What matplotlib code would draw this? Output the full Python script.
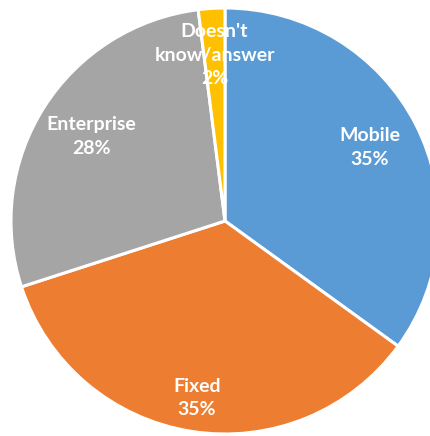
import numpy as np
import matplotlib
matplotlib.use("Agg")
import matplotlib.pyplot as plt

categories = ["Mobile", "Fixed", "Enterprise", "Doesn't\nknow/answer"]
values = [35, 35, 28, 2]
colors = ["#5B9BD5", "#ED7D31", "#A5A5A5", "#FFC000"]
label_radius = [0.76, 0.84, 0.74, 0.78]

fig = plt.figure(figsize=(4.30, 4.36), dpi=100)
W, H = 430, 436
left, right, top, bottom = 11, 439, 8, 434
ax = fig.add_axes([left / W, (H - bottom) / H, (right - left) / W, (bottom - top) / H])
wedges, _ = ax.pie(values, colors=colors, startangle=90, counterclock=False,
                   wedgeprops=dict(edgecolor="white", linewidth=2.2))
ax.set_xlim(-1, 1)
ax.set_ylim(-1, 1)
ax.set_aspect("auto")
ax.axis("off")

for w, cat, v, r in zip(wedges, categories, values, label_radius):
    ang = np.deg2rad((w.theta1 + w.theta2) / 2)
    ax.text(r * np.cos(ang), r * np.sin(ang), f"{cat}\n{v}%", ha="center", va="center",
            color="white", fontweight="bold", fontsize=14, family="Lato",
            linespacing=1.45)

fig.savefig("out.png", dpi=100)
